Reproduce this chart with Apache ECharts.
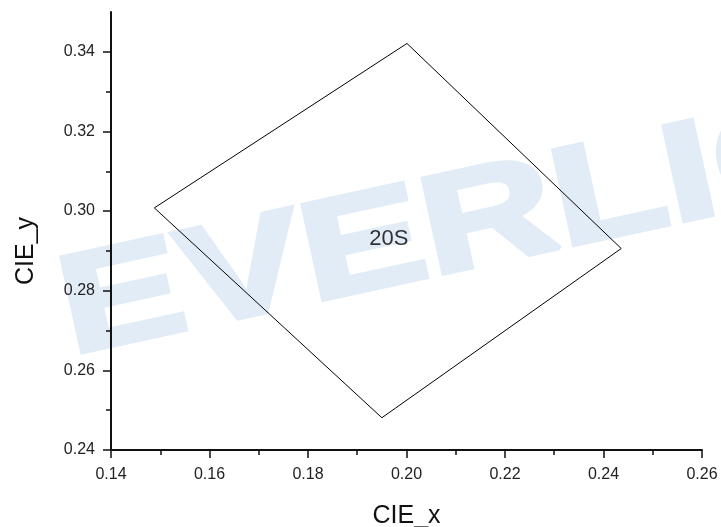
<!DOCTYPE html>
<html>
<head>
<meta charset="utf-8">
<script src="https://cdn.jsdelivr.net/npm/echarts@6/dist/echarts.min.js"></script>
<style>
html,body{margin:0;padding:0;background:#fff;}
#chart{width:721px;height:527px;}
</style>
</head>
<body>
<div id="chart"></div>
<script>
// Data
const polygonX = [0.1488, 0.2001, 0.2436, 0.1950, 0.1488];
const polygonY = [0.3008, 0.3421, 0.2906, 0.2481, 0.3008];
const regionLabel = '20S';
const labelX = [0.1964];
const labelY = [0.2931];
const yMajorTicks = [0.24, 0.26, 0.28, 0.30, 0.32, 0.34];
const yMinorTicks = [0.25, 0.27, 0.29, 0.31, 0.33];
const xTitle = 'CIE_x';
const yTitle = 'CIE_y';
const watermark = 'EVERLIGHT';

const font = 'Liberation Sans, Arial, sans-serif';
const chart = echarts.init(document.getElementById('chart'), null, {renderer: 'canvas'});

chart.setOption({
  animation: false,
  backgroundColor: '#ffffff',
  graphic: [{
    type: 'text',
    z: -10,
    x: 78,
    y: 385,
    rotation: 0.215,
    scaleX: 1.32,
    scaleY: 1,
    silent: true,
    style: {
      text: watermark,
      fill: '#e2ecf6',
      stroke: '#e2ecf6',
      lineWidth: 5,
      font: 'bold 140px ' + font,
      textAlign: 'left',
      textVerticalAlign: 'bottom'
    }
  }],
  grid: {left: 111, right: 19, top: 12, bottom: 77, containLabel: false, outerBoundsMode: 'none'},
  xAxis: {
    type: 'value',
    min: 0.14, max: 0.26, interval: 0.02,
    name: xTitle,
    nameLocation: 'middle',
    nameGap: 54,
    nameTextStyle: {fontSize: 25, color: '#111', fontFamily: font},
    axisLine: {show: true, onZero: false, lineStyle: {color: '#111', width: 2}},
    axisTick: {show: true, inside: false, length: 8, lineStyle: {color: '#111', width: 1.5}},
    minorTick: {show: true, splitNumber: 2, length: 5, lineStyle: {color: '#111', width: 1.5}},
    axisLabel: {fontSize: 16, color: '#222', fontFamily: font, margin: 17,
      formatter: v => v.toFixed(2)},
    splitLine: {show: false}
  },
  yAxis: [{
    type: 'value',
    min: 0.24, max: 0.35,
    name: yTitle,
    nameLocation: 'middle',
    nameGap: 72,
    nameTextStyle: {fontSize: 25, color: '#111', fontFamily: font, padding: [0, 40, 0, 0]},
    axisLine: {show: true, onZero: false, lineStyle: {color: '#111', width: 2}},
    axisTick: {show: true, inside: false, length: 8, customValues: yMajorTicks, lineStyle: {color: '#111', width: 1.5}},
    axisLabel: {fontSize: 16, color: '#222', fontFamily: font, margin: 16,
      customValues: yMajorTicks, formatter: v => v.toFixed(2)},
    splitLine: {show: false}
  }, {
    type: 'value',
    min: 0.24, max: 0.35,
    position: 'left',
    axisLine: {show: false},
    axisTick: {show: true, inside: false, length: 5, customValues: yMinorTicks, lineStyle: {color: '#111', width: 1.5}},
    axisLabel: {show: false},
    splitLine: {show: false}
  }],
  series: [{
    type: 'line',
    data: polygonX.map((x, i) => [x, polygonY[i]]),
    showSymbol: false,
    lineStyle: {color: '#000', width: 1},
    silent: true,
    z: 5
  }, {
    type: 'scatter',
    data: labelX.map((x, i) => [x, labelY[i]]),
    symbolSize: 0,
    label: {show: true, position: 'inside', formatter: regionLabel,
      fontSize: 22, color: '#000', fontFamily: font},
    z: 6
  }]
});
</script>
</body>
</html>
